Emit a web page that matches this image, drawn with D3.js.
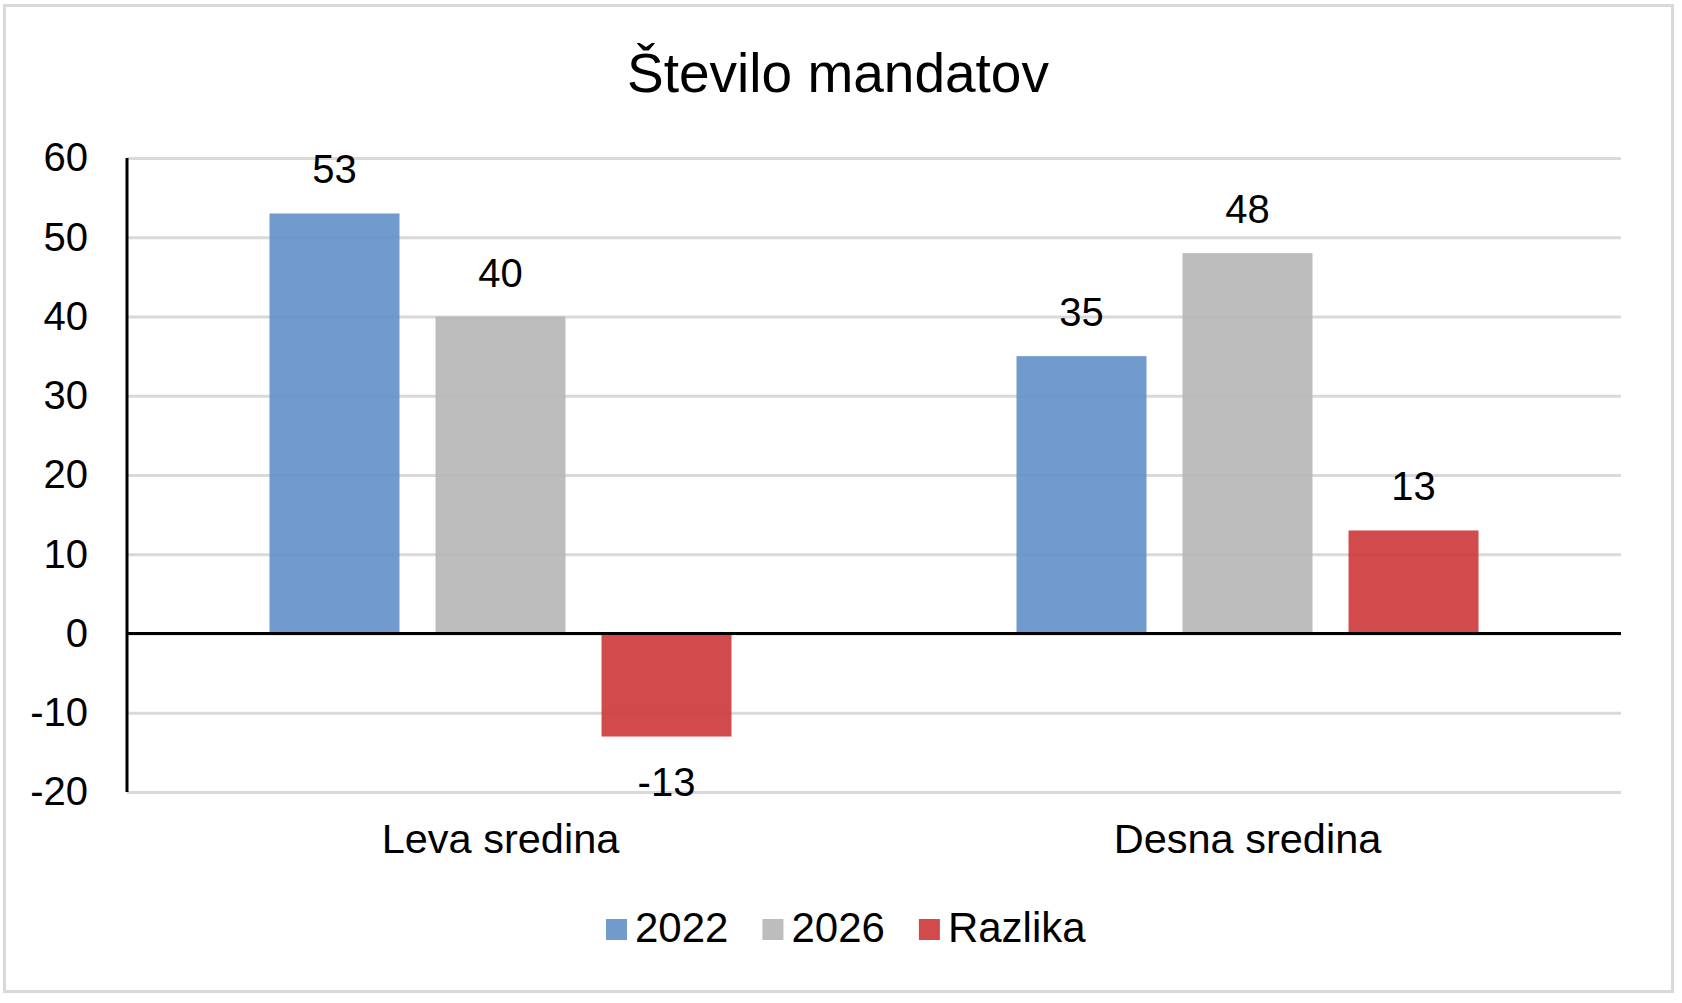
<!DOCTYPE html>
<html>
<head>
<meta charset="utf-8">
<script src="https://cdn.jsdelivr.net/npm/d3@7"></script>
<style>
  body { margin: 0; background: #fff; }
  text { font-family: "Liberation Sans", Arial, sans-serif; fill: #000; }
</style>
</head>
<body>
<svg id="drawing_region"></svg>
<script>
const categories = ['Leva sredina', 'Desna sredina'];
const series = ['2022', '2026', 'Razlika'];
const values2022 = [53, 35];
const values2026 = [40, 48];
const valuesRazlika = [-13, 13];
const yticks = [-20, -10, 0, 10, 20, 30, 40, 50, 60];
const title = 'Število mandatov';

const colors = {'2022': '#6290c6', '2026': '#b6b6b6', 'Razlika': '#cc3638'};

const data = categories.map((c, i) => ({
    category: c,
    values: [
        {key: '2022', value: values2022[i]},
        {key: '2026', value: values2026[i]},
        {key: 'Razlika', value: valuesRazlika[i]},
    ]
}));

const width = 1682, height = 1003;
const margin = {top: 158, right: 61, bottom: 211, left: 127};
const inner_width = width - margin.left - margin.right;
const inner_height = height - margin.top - margin.bottom;

const svg = d3.select('#drawing_region')
    .attr('width', width)
    .attr('height', height);

// outer border
svg.append('rect')
    .attr('x', 4.5).attr('y', 5.5)
    .attr('width', 1668)
    .attr('height', 986)
    .attr('fill', 'none')
    .attr('stroke', '#d9d9d9')
    .attr('stroke-width', 3);

svg.append('text')
    .attr('x', 838)
    .attr('y', 92)
    .attr('text-anchor', 'middle')
    .attr('font-size', '55px')
    .text(title);

const chart = svg.append('g')
    .attr('transform', `translate(${margin.left}, ${margin.top})`);

const yscale = d3.scaleLinear()
    .domain([d3.min(yticks), d3.max(yticks)])
    .range([inner_height, 0]);

const x0 = d3.scaleBand()
    .domain(categories)
    .range([0, inner_width])
    .paddingInner(0.3815)
    .paddingOuter(0.19075);

const x1 = d3.scaleBand()
    .domain(series)
    .range([0, x0.bandwidth()])
    .paddingInner(0.217);

// gridlines
const grid = chart.append('g')
    .call(d3.axisLeft(yscale).tickValues(yticks).tickSize(-inner_width).tickFormat(''));
grid.select('.domain').remove();
grid.selectAll('line').attr('stroke', '#d9d9d9').attr('stroke-width', 3);

// y tick labels (plain hyphen for negatives)
const yaxis = chart.append('g')
    .call(d3.axisLeft(yscale).tickValues(yticks).tickSize(0).tickPadding(39)
        .tickFormat(d => String(d)));
yaxis.select('.domain').remove();
yaxis.selectAll('text')
    .attr('font-size', '40px')
    .attr('font-family', '"Liberation Sans", Arial, sans-serif')
    .attr('fill', '#000');

// bars
const groups = chart.selectAll('.group')
    .data(data)
    .enter()
    .append('g')
    .attr('transform', d => `translate(${x0(d.category)}, 0)`);

groups.selectAll('rect')
    .data(d => d.values)
    .enter()
    .append('rect')
    .attr('x', d => x1(d.key))
    .attr('y', d => yscale(Math.max(0, d.value)))
    .attr('width', x1.bandwidth())
    .attr('height', d => Math.abs(yscale(d.value) - yscale(0)))
    .attr('fill', d => colors[d.key])
    .attr('fill-opacity', 0.9);

groups.selectAll('.label')
    .data(d => d.values)
    .enter()
    .append('text')
    .attr('x', d => x1(d.key) + x1.bandwidth() / 2)
    .attr('y', d => d.value >= 0 ? yscale(d.value) - 30 : yscale(d.value) + 59)
    .attr('text-anchor', 'middle')
    .attr('font-size', '40px')
    .text(d => d.value);

// axis lines
chart.append('line')
    .attr('x1', 0).attr('x2', inner_width)
    .attr('y1', yscale(0)).attr('y2', yscale(0))
    .attr('stroke', '#000').attr('stroke-width', 3);
chart.append('line')
    .attr('x1', 0).attr('x2', 0)
    .attr('y1', 0).attr('y2', inner_height)
    .attr('stroke', '#000').attr('stroke-width', 3);

// category labels
chart.selectAll('.cat')
    .data(categories)
    .enter()
    .append('text')
    .attr('x', d => x0(d) + x0.bandwidth() / 2)
    .attr('y', 853 - margin.top)
    .attr('text-anchor', 'middle')
    .attr('font-size', '41.5px')
    .text(d => d);

// legend
const legend = svg.append('g');
let lx = 606;
series.forEach(s => {
    legend.append('rect')
        .attr('x', lx).attr('y', 919)
        .attr('width', 21).attr('height', 21)
        .attr('fill', colors[s]).attr('fill-opacity', 0.9);
    const t = legend.append('text')
        .attr('x', lx + 29)
        .attr('y', 942)
        .attr('font-size', '42px')
        .text(s);
    lx += 29 + t.node().getComputedTextLength() + 34;
});
</script>
</body>
</html>
